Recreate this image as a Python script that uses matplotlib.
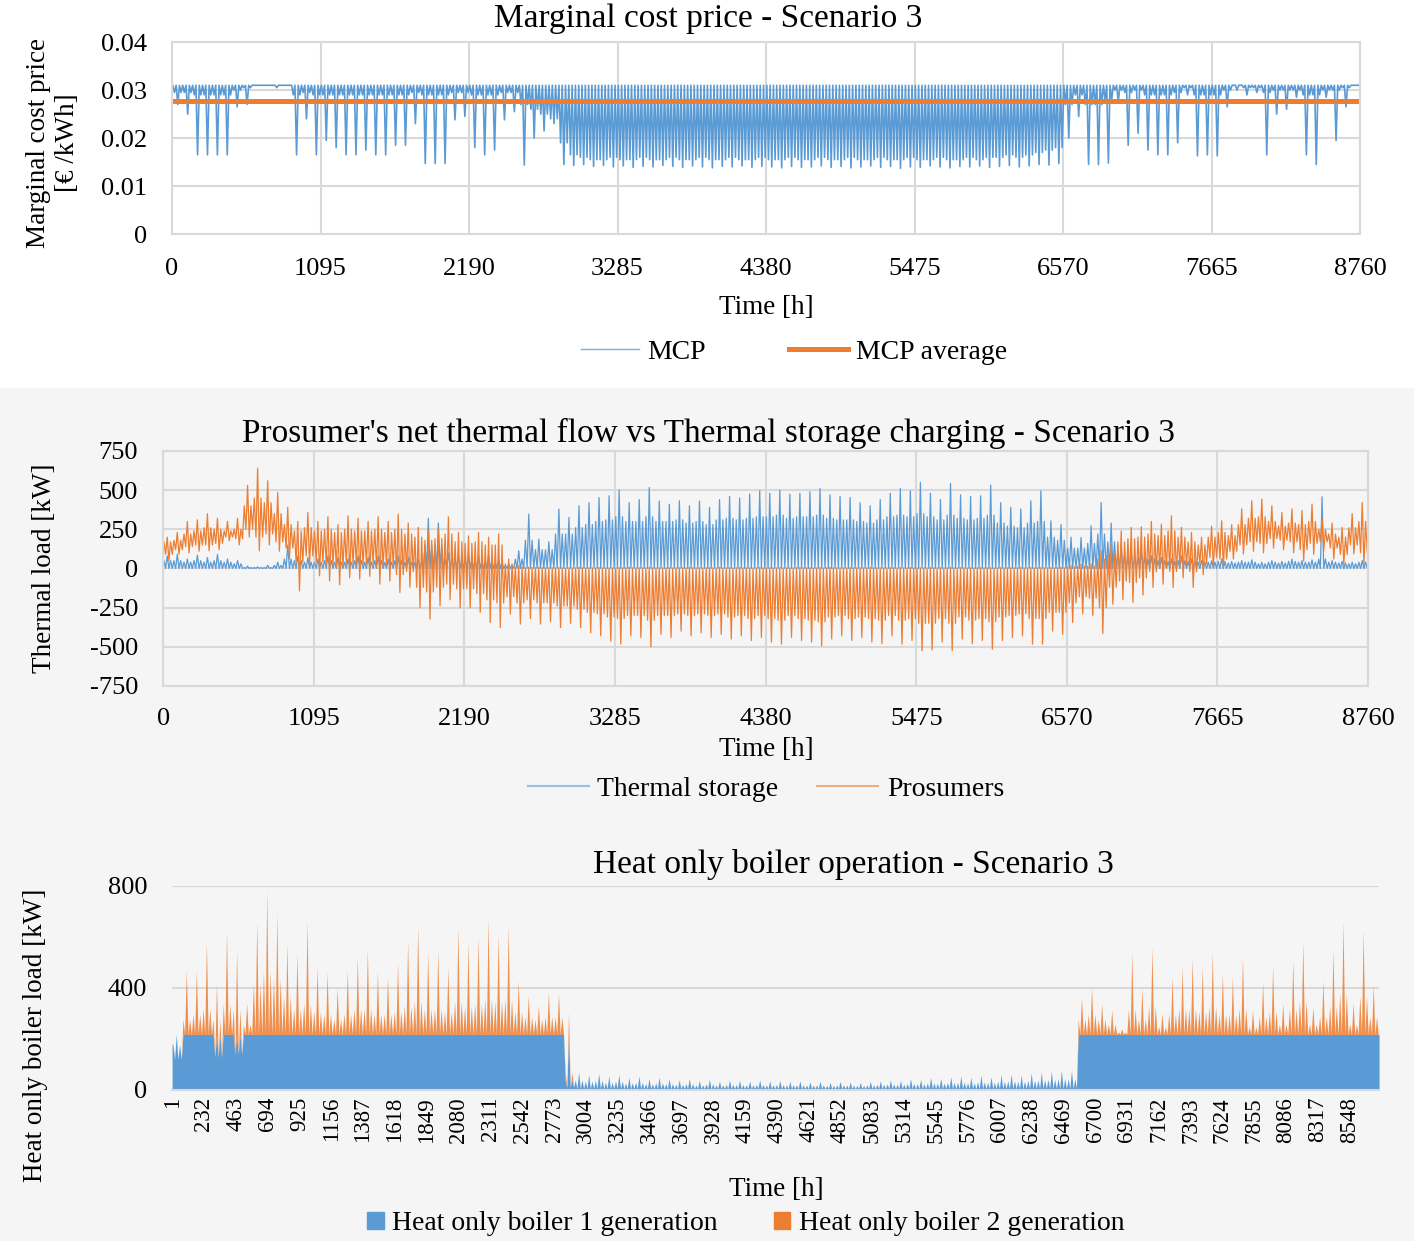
import numpy as np
import matplotlib
matplotlib.use("Agg")
import matplotlib.pyplot as plt
from matplotlib.patches import Rectangle, Patch
from matplotlib.lines import Line2D

plt.rcParams['font.family'] = ['Liberation Serif', 'DejaVu Serif']
plt.rcParams['axes.unicode_minus'] = False

BLUE = "#5B9BD5"
ORANGE = "#ED7D31"
GRID = "#D9D9D9"
PANEL = "#F5F5F5"

HOURS = 8760
SEG = 73  # each value below covers 73 h (120 segments over the year)

# ----- Marginal cost price [EUR/kWh] -----
mcp_cap = 0.031          # undisturbed price level
mcp_average = 0.0277
# deepest dip inside each 73 h segment
mcp_low = [
    0.027, 0.025, 0.0165, 0.0165, 0.0165, 0.0165, 0.0265, 0.027, 0.031, 0.031,
    0.0305, 0.031, 0.0165, 0.024, 0.0165, 0.0195, 0.018, 0.0165, 0.0165, 0.0175,
    0.0165, 0.0165, 0.0185, 0.0185, 0.023, 0.0147, 0.0147, 0.0147, 0.0238, 0.0245,
    0.018, 0.0165, 0.0175, 0.0238, 0.0255, 0.0144, 0.020, 0.0215, 0.023, 0.0145,
    0.0143, 0.0145, 0.0141, 0.0143, 0.0140, 0.0142, 0.0139, 0.0141, 0.0140, 0.0143,
    0.0141, 0.0139, 0.0142, 0.0140, 0.0138, 0.0141, 0.0140, 0.0142, 0.0139, 0.0141,
    0.0140, 0.0138, 0.0141, 0.0139, 0.0140, 0.0142, 0.0139, 0.0141, 0.0138, 0.0140,
    0.0142, 0.0139, 0.0141, 0.0137, 0.0140, 0.0139, 0.0142, 0.0140, 0.0138, 0.0141,
    0.0140, 0.0142, 0.0139, 0.0141, 0.0143, 0.0140, 0.0142, 0.0145, 0.0144, 0.0147,
    0.020, 0.0245, 0.0145, 0.0145, 0.0148, 0.0275, 0.0185, 0.021, 0.0175, 0.0165,
    0.0165, 0.019, 0.029, 0.0163, 0.0165, 0.0163, 0.0265, 0.030, 0.029, 0.0295,
    0.0165, 0.025, 0.026, 0.0285, 0.0165, 0.0145, 0.0285, 0.0195, 0.0265, 0.031,
]
# typical daily dip level inside each segment
mcp_band = [
    0.0295, 0.0295, 0.029, 0.029, 0.029, 0.029, 0.030, 0.0305, 0.031, 0.031,
    0.031, 0.031, 0.029, 0.0295, 0.029, 0.029, 0.029, 0.029, 0.029, 0.029,
    0.029, 0.029, 0.029, 0.029, 0.0295, 0.029, 0.029, 0.029, 0.0295, 0.0295,
    0.029, 0.029, 0.029, 0.0295, 0.0295, 0.027, 0.026, 0.025, 0.024, 0.019,
    0.0165, 0.016, 0.0155, 0.0155, 0.016, 0.0155, 0.0155, 0.016, 0.0155, 0.0155,
    0.016, 0.0155, 0.0155, 0.016, 0.0155, 0.0155, 0.016, 0.0155, 0.0155, 0.016,
    0.0155, 0.0155, 0.016, 0.0155, 0.0155, 0.016, 0.0155, 0.0155, 0.016, 0.0155,
    0.0155, 0.016, 0.0155, 0.0155, 0.016, 0.0155, 0.0155, 0.016, 0.0155, 0.0155,
    0.016, 0.0155, 0.016, 0.016, 0.0165, 0.016, 0.0165, 0.017, 0.0175, 0.018,
    0.027, 0.029, 0.027, 0.027, 0.028, 0.030, 0.0295, 0.030, 0.029, 0.029,
    0.029, 0.0295, 0.0305, 0.029, 0.029, 0.029, 0.030, 0.031, 0.0305, 0.0305,
    0.0295, 0.030, 0.030, 0.030, 0.029, 0.029, 0.030, 0.030, 0.0305, 0.031,
]

# ----- Net thermal flow [kW] -----
storage_high = [
    80, 90, 60, 85, 70, 90, 60, 50, 15, 10,
    20, 40, 150, 80, 70, 60, 80, 70, 60, 80,
    70, 80, 60, 80, 70, 60, 320, 290, 100, 90,
    100, 80, 90, 60, 30, 113, 347, 187, 170, 379,
    326, 400, 420, 453, 464, 500, 420, 440, 517, 430,
    410, 432, 400, 430, 390, 440, 460, 450, 475, 496,
    480, 500, 475, 480, 490, 510, 470, 460, 453, 420,
    400, 440, 480, 510, 496, 549, 480, 440, 543, 470,
    460, 464, 532, 420, 390, 380, 432, 496, 304, 280,
    200, 198, 272, 421, 290, 134, 100, 110, 80, 70,
    60, 80, 60, 50, 50, 60, 45, 50, 55, 40,
    50, 45, 60, 50, 55, 457, 50, 45, 40, 50,
]
storage_band = [
    50, 50, 40, 50, 40, 50, 40, 30, 5, 5,
    5, 20, 60, 50, 40, 40, 50, 40, 40, 50,
    40, 50, 40, 50, 40, 40, 150, 150, 60, 60,
    60, 50, 50, 40, 20, 60, 180, 120, 120, 220,
    220, 260, 280, 300, 310, 330, 300, 300, 330, 300,
    300, 310, 290, 300, 280, 310, 320, 310, 320, 330,
    330, 340, 320, 330, 330, 340, 320, 310, 310, 300,
    290, 310, 330, 340, 330, 350, 330, 310, 340, 320,
    310, 320, 340, 290, 270, 260, 290, 300, 200, 180,
    130, 130, 160, 220, 170, 90, 70, 70, 60, 50,
    45, 50, 45, 40, 40, 45, 35, 40, 40, 30,
    40, 35, 45, 40, 40, 60, 40, 35, 30, 40,
]
storage_low = 0

prosumer_high = [
    200, 230, 300, 310, 350, 320, 300, 320, 530, 640,
    560, 485, 390, 300, 357, 300, 330, 280, 336, 320,
    300, 330, 300, 347, 290, 262, 240, 250, 330, 230,
    208, 230, 200, 220, 60, 20, 8, 8, 6, 5,
    5, 8, 4, 6, 3, 5, 7, 4, 6, 3,
    5, 4, 6, 3, 5, 7, 4, 5, 3, 6,
    4, 5, 3, 6, 4, 5, 7, 3, 5, 4,
    6, 3, 5, 4, 6, 3, 5, 4, 6, 5,
    4, 6, 3, 5, 4, 6, 5, 5, 5, 8,
    20, 28, 30, 113, 155, 240, 262, 266, 300, 283,
    336, 262, 230, 200, 270, 304, 280, 380, 432, 443,
    400, 357, 380, 370, 411, 320, 290, 262, 350, 421,
]
prosumer_low = [
    50, 90, 100, 110, 113, 120, 177, 150, 200, 113,
    150, 110, 60, -143, 20, -47, -80, -104, -60, -68,
    -50, -100, -80, -153, -120, -250, -323, -238, -200, -250,
    -250, -280, -345, -377, -290, -355, -320, -355, -340, -377,
    -350, -377, -410, -430, -464, -483, -430, -440, -500, -420,
    -440, -400, -430, -410, -440, -420, -450, -430, -460, -440,
    -470, -483, -440, -460, -470, -494, -450, -430, -460, -440,
    -470, -480, -430, -483, -460, -525, -520, -470, -525, -450,
    -480, -460, -515, -460, -440, -430, -483, -483, -400, -420,
    -345, -290, -300, -415, -228, -200, -217, -170, -121, -100,
    -121, -60, -121, -40, 10, 6, 60, 92, 110, 100,
    130, 120, 100, 49, 90, 113, 60, 28, 92, 28,
]
prosumer_band_high = [
    170, 180, 220, 240, 260, 250, 240, 250, 400, 450,
    420, 350, 280, 240, 260, 240, 250, 230, 250, 240,
    240, 250, 230, 250, 220, 200, 180, 190, 220, 170,
    160, 170, 150, 150, 30, 10, 5, 5, 4, 3,
    2, 3, 2, 3, 2, 2, 3, 2, 3, 2,
    2, 3, 2, 2, 3, 2, 2, 3, 2, 2,
    3, 2, 2, 3, 2, 2, 3, 2, 2, 3,
    2, 2, 3, 2, 2, 3, 2, 2, 3, 2,
    2, 3, 2, 2, 3, 2, 2, 3, 3, 4,
    10, 15, 15, 60, 90, 170, 190, 200, 220, 210,
    240, 200, 170, 150, 200, 230, 210, 280, 320, 330,
    300, 270, 290, 280, 300, 250, 220, 200, 260, 300,
]
prosumer_band_low = [
    90, 120, 140, 150, 150, 160, 200, 190, 250, 200,
    220, 170, 130, 40, 80, 40, 20, 10, 30, 20,
    30, 10, 20, -40, -20, -120, -150, -120, -100, -130,
    -130, -160, -200, -220, -180, -220, -200, -220, -220, -240,
    -240, -260, -280, -290, -310, -320, -300, -300, -330, -300,
    -300, -290, -300, -290, -300, -290, -310, -300, -320, -300,
    -320, -330, -300, -320, -330, -340, -310, -300, -320, -310,
    -320, -330, -300, -330, -320, -350, -350, -320, -350, -310,
    -330, -320, -340, -310, -300, -290, -320, -320, -280, -280,
    -220, -180, -190, -250, -120, -80, -90, -60, -20, 0,
    -20, 20, -20, 30, 70, 60, 110, 150, 170, 160,
    190, 180, 170, 120, 160, 170, 130, 90, 150, 100,
]

# ----- Heat only boilers [kW] -----
boiler1_high = [
    218, 218, 218, 218, 218, 218, 218, 218, 218, 218,
    218, 218, 218, 218, 218, 218, 218, 218, 218, 218,
    218, 218, 218, 218, 218, 218, 218, 218, 218, 218,
    218, 218, 218, 218, 218, 218, 218, 218, 218, 218,
    70, 60, 65, 55, 60, 50, 55, 45, 50, 45,
    40, 45, 38, 42, 35, 40, 38, 35, 40, 36,
    38, 34, 36, 32, 35, 30, 34, 32, 30, 34,
    36, 40, 38, 45, 42, 50, 46, 52, 55, 50,
    58, 52, 60, 62, 58, 68, 70, 74, 78, 76,
    218, 218, 218, 218, 218, 218, 218, 218, 218, 218,
    218, 218, 218, 218, 218, 218, 218, 218, 218, 218,
    218, 218, 218, 218, 218, 218, 218, 218, 218, 218,
]
boiler1_band = [
    180, 218, 218, 218, 218, 218, 218, 218, 218, 218,
    218, 218, 218, 218, 218, 218, 218, 218, 218, 218,
    218, 218, 218, 218, 218, 218, 218, 218, 218, 218,
    218, 218, 218, 218, 218, 218, 218, 218, 218, 40,
    40, 35, 38, 30, 35, 28, 30, 25, 28, 25,
    22, 25, 20, 24, 20, 22, 21, 20, 22, 20,
    21, 20, 20, 19, 20, 18, 20, 19, 18, 20,
    22, 24, 23, 26, 25, 28, 27, 30, 30, 28,
    32, 30, 34, 36, 34, 38, 40, 42, 45, 44,
    218, 218, 218, 218, 218, 218, 218, 218, 218, 218,
    218, 218, 218, 218, 218, 218, 218, 218, 218, 218,
    218, 218, 218, 218, 218, 218, 218, 218, 218, 218,
]
boiler1_low = [
    120, 218, 218, 218, 130, 218, 140, 218, 218, 218,
    218, 218, 218, 218, 218, 218, 218, 218, 218, 218,
    218, 218, 218, 218, 218, 218, 218, 218, 218, 218,
    218, 218, 218, 218, 218, 218, 218, 218, 218, 10,
    5, 5, 5, 5, 5, 5, 5, 5, 5, 5,
    5, 5, 5, 5, 5, 5, 5, 5, 5, 5,
    5, 5, 5, 5, 5, 5, 5, 5, 5, 5,
    5, 5, 5, 5, 5, 5, 5, 5, 5, 5,
    5, 5, 5, 5, 5, 5, 5, 5, 5, 5,
    218, 218, 218, 218, 218, 218, 218, 218, 218, 218,
    218, 218, 218, 218, 218, 218, 218, 218, 218, 218,
    218, 218, 218, 218, 218, 218, 218, 218, 218, 218,
]
boiler2_high = [
    0, 252, 252, 362, 202, 402, 330, 122, 441, 565,
    474, 356, 317, 447, 265, 245, 182, 252, 304, 337,
    245, 226, 278, 369, 428, 323, 330, 262, 421, 362,
    382, 454, 395, 428, 212, 154, 115, 167, 160, 88,
    0, 0, 0, 0, 0, 0, 0, 0, 0, 0,
    0, 0, 0, 0, 0, 0, 0, 0, 0, 0,
    0, 0, 0, 0, 0, 0, 0, 0, 0, 0,
    0, 0, 0, 0, 0, 0, 0, 0, 0, 0,
    0, 0, 0, 0, 0, 0, 0, 0, 0, 0,
    147, 186, 122, 95, 22, 323, 182, 343, 82, 226,
    265, 297, 265, 323, 239, 226, 304, 95, 206, 265,
    122, 291, 362, 108, 212, 330, 441, 122, 408, 193,
]
boiler2_band = [
    0, 60, 80, 100, 60, 120, 100, 40, 200, 250,
    220, 150, 100, 120, 90, 80, 60, 80, 100, 100,
    80, 80, 90, 110, 130, 100, 100, 90, 130, 110,
    120, 140, 130, 140, 90, 70, 60, 70, 70, 30,
    0, 0, 0, 0, 0, 0, 0, 0, 0, 0,
    0, 0, 0, 0, 0, 0, 0, 0, 0, 0,
    0, 0, 0, 0, 0, 0, 0, 0, 0, 0,
    0, 0, 0, 0, 0, 0, 0, 0, 0, 0,
    0, 0, 0, 0, 0, 0, 0, 0, 0, 0,
    60, 80, 60, 40, 10, 100, 60, 110, 30, 80,
    100, 100, 90, 110, 80, 80, 100, 30, 70, 90,
    40, 100, 130, 40, 70, 110, 160, 40, 150, 70,
]

hour_ticks = list(range(0, 8761, 1095))
category_ticks = list(range(1, 8761, 231))
mcp_ticks = [0, 0.01, 0.02, 0.03, 0.04]
mcp_tick_labels = ["0", "0.01", "0.02", "0.03", "0.04"]
load_ticks = [-750, -500, -250, 0, 250, 500, 750]
boiler_ticks = [0, 400, 800]


def swings(top, bottom, top_typ, bottom_typ):
    """Three swings per segment: typical, extreme, typical."""
    n = len(top)
    cols = [top_typ, bottom_typ, top, bottom, top_typ, bottom_typ]
    y = np.column_stack([np.broadcast_to(np.asarray(c, dtype=float), (n,)) for c in cols]).ravel()
    t0 = np.arange(n) * SEG
    x = (t0[:, None] + SEG * (np.arange(6) + 0.5) / 6).ravel()
    x = np.concatenate([[0], x, [HOURS]])
    y = np.concatenate([[y[0]], y, [y[-1]]])
    return x, y


def style_axes(ax, box=True):
    ax.tick_params(length=0, labelsize=19, colors="black")
    for s in ax.spines.values():
        s.set_color(GRID)
        s.set_linewidth(1.5)
        s.set_visible(box)
    ax.set_axisbelow(True)


fig = plt.figure(figsize=(14.18, 12.45), dpi=100)
fig.patches.append(Rectangle((0, 0.003), 0.997, 0.6884 - 0.003, transform=fig.transFigure,
                             facecolor=PANEL, edgecolor="none", zorder=-10))

# ----- Marginal cost price -----
ax1 = fig.add_axes([0.1213, 0.8120, 0.8378, 0.1542])
style_axes(ax1)
xm, ym = swings(np.full(len(mcp_low), mcp_cap), mcp_low, mcp_cap, mcp_band)
ax1.plot(xm, ym, color=BLUE, lw=1.2)
ax1.axhline(mcp_average, color=ORANGE, lw=3.6)
ax1.set_xlim(0, HOURS)
ax1.set_ylim(0, 0.04)
ax1.set_xticks(hour_ticks)
ax1.set_yticks(mcp_ticks, mcp_tick_labels)
ax1.grid(True, color=GRID, lw=1.5)
ax1.tick_params(axis="x", pad=17)
ax1.tick_params(axis="y", pad=18)

fig.text(0.4993, 0.9848, "Marginal cost price - Scenario 3", ha="center", va="center", fontsize=24)
fig.text(0.5402, 0.7534, "Time [h]", ha="center", va="center", fontsize=19.5)
fig.text(0.0375, 0.8851, "Marginal cost price\n[€ /kWh]", ha="center", va="center",
         rotation=90, fontsize=19.5, linespacing=1.2)
fig.legend(handles=[Line2D([], [], color=BLUE, lw=1.0, alpha=0.8),
                    Line2D([], [], color=ORANGE, lw=3.6)],
           labels=["MCP", "MCP average"], loc="center", bbox_to_anchor=(0.560, 0.7173),
           ncol=2, frameon=False, fontsize=20, handlelength=2.1, columnspacing=3.0,
           handletextpad=0.3)

# ----- Net thermal flow -----
ax2 = fig.add_axes([0.1150, 0.4490, 0.8498, 0.1888])
ax2.set_facecolor(PANEL)
style_axes(ax2)
xs, ys = swings(storage_high, storage_low, storage_band, storage_low)
ax2.plot(xs, ys, color=BLUE, lw=0.9)
xp, yp = swings(prosumer_high, prosumer_low, prosumer_band_high, prosumer_band_low)
ax2.plot(xp, yp, color=ORANGE, lw=0.9)
ax2.set_xlim(0, HOURS)
ax2.set_ylim(-750, 750)
ax2.set_xticks(hour_ticks)
ax2.set_yticks(load_ticks)
ax2.grid(True, color=GRID, lw=1.5)
ax2.tick_params(axis="x", pad=16)
ax2.tick_params(axis="y", pad=18)

fig.text(0.4993, 0.6522, "Prosumer's net thermal flow vs Thermal storage charging - Scenario 3",
         ha="center", va="center", fontsize=24)
fig.text(0.5402, 0.3976, "Time [h]", ha="center", va="center", fontsize=19.5)
fig.text(0.0317, 0.5438, "Thermal load [kW]", ha="center", va="center", rotation=90, fontsize=19.5)
fig.legend(handles=[Line2D([], [], color=BLUE, lw=1.5, alpha=0.6),
                    Line2D([], [], color=ORANGE, lw=1.5, alpha=0.6)],
           labels=["Thermal storage", "Prosumers"], loc="center", bbox_to_anchor=(0.5402, 0.3663),
           ncol=2, frameon=False, fontsize=20, handlelength=2.2, columnspacing=1.4,
           handletextpad=0.3)

# ----- Heat only boilers -----
ax3 = fig.add_axes([0.1213, 0.1245, 0.8512, 0.1639])
ax3.set_facecolor(PANEL)
style_axes(ax3, box=False)
ax3.spines["bottom"].set_visible(True)
xb, yb1 = swings(boiler1_high, boiler1_low, boiler1_band, boiler1_low)
_, yb2 = swings(boiler2_high, 0, boiler2_band, 0)
xb = xb + 1  # categories are numbered from hour 1
ax3.fill_between(xb, 0, yb1, color=BLUE, lw=0)
ax3.fill_between(xb, yb1, yb1 + yb2, color=ORANGE, lw=0, alpha=0.85)
ax3.set_xlim(0.5, HOURS + 0.5)
ax3.set_ylim(0, 800)
ax3.set_yticks(boiler_ticks)
ax3.set_xticks(category_ticks)
ax3.tick_params(axis="x", labelrotation=90, labelsize=16.5, pad=5)
ax3.tick_params(axis="y", pad=18)
ax3.grid(True, axis="y", color=GRID, lw=1.5)

fig.text(0.6015, 0.3060, "Heat only boiler operation - Scenario 3", ha="center", va="center", fontsize=24)
fig.text(0.5472, 0.0442, "Time [h]", ha="center", va="center", fontsize=19.5)
fig.text(0.0247, 0.1687, "Heat only boiler load [kW]", ha="center", va="center", rotation=90, fontsize=19.5)
fig.legend(handles=[Patch(color=BLUE), Patch(color=ORANGE)],
           labels=["Heat only boiler 1 generation", "Heat only boiler 2 generation"],
           loc="center", bbox_to_anchor=(0.526, 0.0169), ncol=2, frameon=False, fontsize=20,
           handlelength=0.6, handleheight=0.6, columnspacing=2.0, handletextpad=0.3)

fig.savefig("out.png", dpi=100)
